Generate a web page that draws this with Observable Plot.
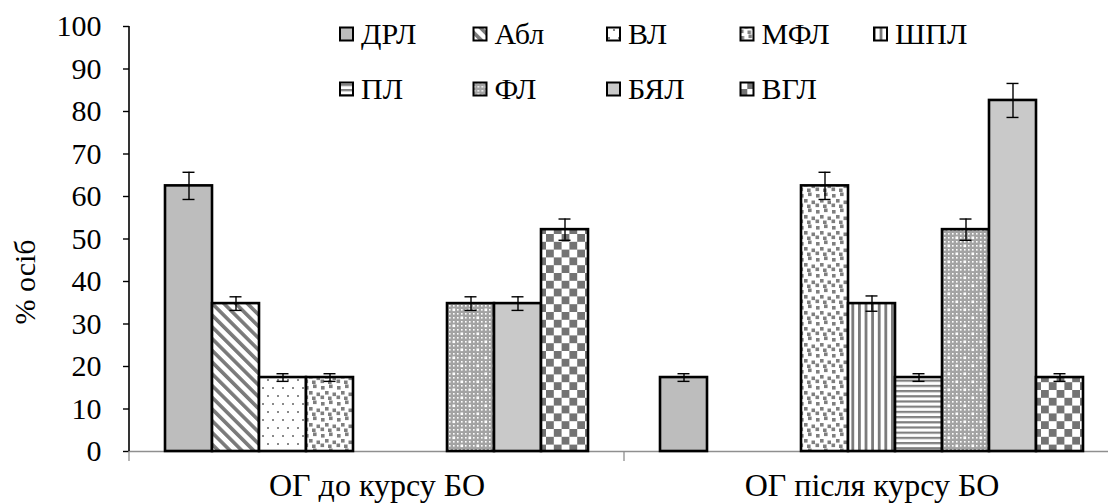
<!DOCTYPE html>
<html>
<head>
<meta charset="utf-8">
<script src="https://cdn.jsdelivr.net/npm/d3@7"></script>
<script src="https://cdn.jsdelivr.net/npm/@observablehq/plot@0.6"></script>
<style>
  html, body { margin: 0; padding: 0; background: #fff; overflow: hidden; }
  #wrap { position: relative; width: 1108px; height: 503px; overflow: hidden; }
</style>
</head>
<body>
<svg width="0" height="0" style="position:absolute">
  <defs>
    <pattern id="p0" patternUnits="userSpaceOnUse" width="4" height="4">
      <rect width="4" height="4" fill="#bdbdbd"/>
    </pattern>
    <pattern id="p1" patternUnits="userSpaceOnUse" width="8.3" height="8.3" patternTransform="rotate(-45)">
      <rect width="8.3" height="8.3" fill="#fff"/>
      <rect width="3.6" height="8.3" fill="#7a7a7a"/>
    </pattern>
    <pattern id="p2" patternUnits="userSpaceOnUse" width="10" height="16">
      <rect width="10" height="16" fill="#fff"/>
      <rect x="2" y="3" width="2" height="2" fill="#8a8a8a"/>
      <rect x="7" y="11" width="2" height="2" fill="#8a8a8a"/>
    </pattern>
    <pattern id="p3" patternUnits="userSpaceOnUse" width="16" height="16">
      <rect width="16" height="16" fill="#fff"/>
      <rect x="1" y="2" width="3.6" height="3.6" fill="#7f7f7f"/>
      <rect x="9" y="0.5" width="3.6" height="3.6" fill="#7f7f7f"/>
      <rect x="5" y="7" width="3.6" height="3.6" fill="#7f7f7f"/>
      <rect x="12.5" y="8.5" width="3.6" height="3.6" fill="#7f7f7f"/>
      <rect x="8" y="12.5" width="3.6" height="3.6" fill="#7f7f7f"/>
      <rect x="0.5" y="11.5" width="3.6" height="3.6" fill="#7f7f7f"/>
    </pattern>
    <pattern id="p4" patternUnits="userSpaceOnUse" width="6.6" height="6.6">
      <rect width="6.6" height="6.6" fill="#fff"/>
      <rect width="2.8" height="6.6" fill="#7a7a7a"/>
    </pattern>
    <pattern id="p5" patternUnits="userSpaceOnUse" width="5.2" height="5.2">
      <rect width="5.2" height="5.2" fill="#fff"/>
      <rect width="5.2" height="2.2" fill="#808080"/>
    </pattern>
    <pattern id="p6" patternUnits="userSpaceOnUse" width="16" height="16">
      <rect width="16" height="16" fill="#a3a3a3"/>
      <g fill="#fff">
        <rect x="1" y="1" width="1.6" height="1.6"/><rect x="5" y="1" width="1.6" height="1.6"/>
        <rect x="9" y="1" width="1.6" height="1.6"/><rect x="13" y="1" width="1.6" height="1.6"/>
        <rect x="1" y="5" width="1.6" height="1.6"/><rect x="5" y="5" width="1.6" height="1.6"/>
        <rect x="9" y="5" width="1.6" height="1.6"/><rect x="13" y="5" width="1.6" height="1.6"/>
        <rect x="1" y="9" width="1.6" height="1.6"/><rect x="5" y="9" width="1.6" height="1.6"/>
        <rect x="9" y="9" width="1.6" height="1.6"/><rect x="13" y="9" width="1.6" height="1.6"/>
        <rect x="1" y="13" width="1.6" height="1.6"/><rect x="5" y="13" width="1.6" height="1.6"/>
        <rect x="9" y="13" width="1.6" height="1.6"/><rect x="13" y="13" width="1.6" height="1.6"/>
        <rect x="4.5" y="4.5" width="2.6" height="2.6"/><rect x="12.5" y="12.5" width="2.6" height="2.6"/>
      </g>
    </pattern>
    <pattern id="p7" patternUnits="userSpaceOnUse" width="4" height="4">
      <rect width="4" height="4" fill="#c9c9c9"/>
    </pattern>
    <pattern id="p8" patternUnits="userSpaceOnUse" width="15.6" height="15.6">
      <rect width="15.6" height="15.6" fill="#fff"/>
      <rect width="7.8" height="7.8" fill="#737373"/>
      <rect x="7.8" y="7.8" width="7.8" height="7.8" fill="#737373"/>
    </pattern>
  </defs>
</svg>
<div id="wrap"></div>
<script>
// ---- data ----
const groups = ["ОГ до курсу БО", "ОГ після курсу БО"];
const series = ["ДРЛ", "Абл", "ВЛ", "МФЛ", "ШПЛ", "ПЛ", "ФЛ", "БЯЛ", "ВГЛ"];
const valuesBefore = [62.5, 34.8, 17.4, 17.4, 0, 0, 34.8, 34.8, 52.2];
const valuesAfter  = [17.4, 0, 0, 62.5, 34.8, 17.4, 52.2, 82.6, 17.4];
const errorsBefore = [3.2, 1.6, 0.9, 0.9, 0, 0, 1.6, 1.6, 2.5];
const errorsAfter  = [0.9, 0, 0, 3.2, 1.8, 0.9, 2.5, 4.0, 0.9];
const yTicks = [0, 10, 20, 30, 40, 50, 60, 70, 80, 90, 100];
const yLabel = "% осіб";

// ---- styles ----
const patternFills = series.map((s, i) => `url(#p${i})`);
const FONT = "'Liberation Serif', 'Times New Roman', serif";

const table = [];
groups.forEach((g, gi) => {
  const vals = gi === 0 ? valuesBefore : valuesAfter;
  const errs = gi === 0 ? errorsBefore : errorsAfter;
  series.forEach((s, si) => {
    table.push({group: g, series: s, value: vals[si], err: errs[si], fill: patternFills[si]});
  });
});
const bars = table.filter(d => d.value > 0);

const chart = Plot.plot({
  width: 1108,
  height: 503,
  marginTop: 26,
  marginBottom: 52,
  marginLeft: 129,
  marginRight: -11,
  style: {fontFamily: FONT, fontSize: "30px", color: "#000", background: "#fff", overflow: "visible"},
  fx: {domain: groups, padding: 0, label: null},
  x: {domain: series, paddingInner: 0, paddingOuter: 0.766, round: false, axis: null},
  y: {domain: [0, 100], label: null},
  color: {type: "identity"},
  marks: [
    Plot.ruleY([0], {stroke: "#8f8f8f", strokeWidth: 1.3}),
    Plot.barY(bars, {fx: "group", x: "series", y: "value", fill: "fill", stroke: "#000", strokeWidth: 2.6}),
    Plot.ruleX(bars, {fx: "group", x: "series", y1: d => d.value - d.err, y2: d => d.value + d.err, stroke: "#000", strokeWidth: 1.4}),
    Plot.tickY(bars, {fx: "group", x: "series", y: d => d.value - d.err, insetLeft: 17.5, insetRight: 17.5, stroke: "#000", strokeWidth: 1.4}),
    Plot.tickY(bars, {fx: "group", x: "series", y: d => d.value + d.err, insetLeft: 17.5, insetRight: 17.5, stroke: "#000", strokeWidth: 1.4}),
    Plot.axisY({ticks: yTicks, tickSize: 6, tickPadding: 22, fontSize: 30, label: null, strokeWidth: 1.4}),
    Plot.axisFx({anchor: "bottom", tickSize: 0, tickPadding: 22, fontSize: 32, label: null})
  ]
});

document.getElementById("wrap").appendChild(chart);

// ---- decorations using the plot's scales ----
const svg = d3.select(chart);
const ys = chart.scale("y");
const fxs = chart.scale("fx");
const yTop = ys.apply(100), yBot = ys.apply(0);
const left = fxs.range[0];

// y axis line
svg.append("line")
  .attr("x1", left).attr("x2", left).attr("y1", yTop).attr("y2", yBot)
  .attr("stroke", "#000").attr("stroke-width", 1.6);

// category separator ticks
const seps = groups.map(g => fxs.apply(g)).concat([fxs.apply(groups[groups.length - 1]) + fxs.bandwidth]);
svg.append("g").selectAll("line").data(seps).join("line")
  .attr("x1", d => d).attr("x2", d => d).attr("y1", yBot).attr("y2", yBot + 10)
  .attr("stroke", "#8f8f8f").attr("stroke-width", 1.3);

// y axis title
svg.append("text")
  .attr("transform", `translate(35, 282) rotate(-90)`)
  .attr("text-anchor", "middle")
  .attr("font-family", FONT).attr("font-size", 30).attr("fill", "#000")
  .text(yLabel);

// legend (two rows, five columns)
const legX0 = 339, legDX = 133.5, legRows = [34, 89];
const leg = svg.append("g").attr("font-family", FONT).attr("font-size", 30).attr("text-anchor", "start");
series.forEach((s, i) => {
  const row = i < 5 ? 0 : 1, col = i < 5 ? i : i - 5;
  const x = legX0 + col * legDX, cy = legRows[row];
  const g = leg.append("g").attr("transform", `translate(${x},${cy})`);
  g.append("rect").attr("x", 1).attr("y", -6.5).attr("width", 13).attr("height", 13)
    .attr("fill", patternFills[i]).attr("stroke", "#000").attr("stroke-width", 2);
  g.append("text").attr("x", 22).attr("y", 10).attr("fill", "#000").text(s);
});
</script>
</body>
</html>
